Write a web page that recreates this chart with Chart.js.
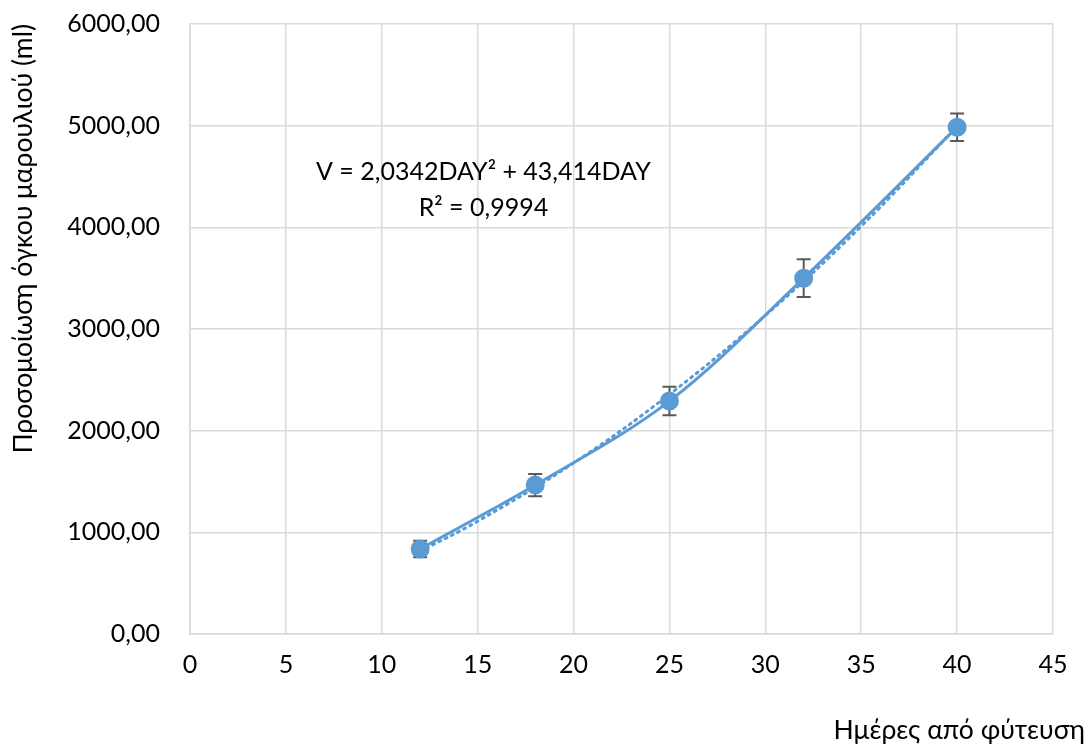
<!DOCTYPE html>
<html>
<head>
<meta charset="utf-8">
<script src="https://cdn.jsdelivr.net/npm/chart.js@4/dist/chart.umd.min.js"></script>
<style>
  html, body { margin: 0; padding: 0; background: #fff; }
  #wrap { width: 1091px; height: 746px; }
</style>
</head>
<body>
<div id="wrap"><canvas id="chart" width="1091" height="746"></canvas></div>
<script>
// measured data (days after planting, volume ml, error)
const days = [12, 18, 25, 32, 40]
const volume = [836, 1465, 2291, 3500, 4985]
const errors = [80, 110, 140, 185, 135]

// trendline values
const trendDays = [12, 15, 20, 25, 30, 35, 40]
const trendVolume = [814, 1109, 1682, 2357, 3133, 4011, 4991]

const xTicks = [0, 5, 10, 15, 20, 25, 30, 35, 40, 45]
const yTicks = [0, 1000, 2000, 3000, 4000, 5000, 6000]

const eqLines = ['V = 2,0342DAY² + 43,414DAY', 'R² = 0,9994']
const eqPos = [15.3, 4540, 4190] // x, y line1, y line2 (data units)

const blue = '#5B9BD5'
const grid = '#d9d9d9'
const font = 'Lato, "Open Sans", sans-serif'

const errorBars = {
  id: 'errorBars',
  beforeDatasetsDraw(chart) {
    const meta = chart.getDatasetMeta(1)
    const y = chart.scales.y
    const c = chart.ctx
    c.save()
    c.strokeStyle = '#595959'
    c.lineWidth = 2
    meta.data.forEach((pt, i) => {
      const top = y.getPixelForValue(volume[i] + errors[i])
      const bot = y.getPixelForValue(volume[i] - errors[i])
      c.beginPath()
      c.moveTo(pt.x, top); c.lineTo(pt.x, bot)
      c.moveTo(pt.x - 7, top); c.lineTo(pt.x + 7, top)
      c.moveTo(pt.x - 7, bot); c.lineTo(pt.x + 7, bot)
      c.stroke()
    })
    c.restore()
  }
}

const labels = {
  id: 'labels',
  afterDraw(chart) {
    const c = chart.ctx
    const sx = chart.scales.x, sy = chart.scales.y
    c.save()
    c.fillStyle = '#000'
    c.font = '25px ' + font
    c.textAlign = 'center'
    c.textBaseline = 'middle'
    c.fillText(eqLines[0], sx.getPixelForValue(eqPos[0]), sy.getPixelForValue(eqPos[1]))
    c.fillText(eqLines[1], sx.getPixelForValue(eqPos[0]), sy.getPixelForValue(eqPos[2]))
    // x axis title, right aligned to canvas edge
    c.font = '26.5px ' + font
    c.textAlign = 'right'
    c.fillText('Ημέρες από φύτευση', chart.width - 6, 730)
    c.restore()
  }
}

new Chart(document.getElementById('chart'), {
  type: 'scatter',
  data: {
    datasets: [{
      label: 'trend',
      data: trendDays.map((d, i) => ({x: d, y: trendVolume[i]})),
      showLine: true,
      borderColor: blue,
      borderWidth: 3,
      borderDash: [2, 5],
      borderCapStyle: 'round',
      pointRadius: 0,
      tension: 0.4
    }, {
      label: 'volume',
      data: days.map((d, i) => ({x: d, y: volume[i]})),
      showLine: true,
      borderColor: blue,
      borderWidth: 3,
      backgroundColor: blue,
      pointBackgroundColor: blue,
      pointBorderColor: blue,
      pointRadius: 8,
      tension: 0.33
    }]
  },
  options: {
    responsive: false,
    animation: false,
    layout: { padding: { top: 24, right: 38, left: 0, bottom: 0 } },
    plugins: { legend: { display: false }, tooltip: { enabled: false } },
    scales: {
      x: {
        type: 'linear', min: 0, max: 45,
        afterBuildTicks: s => { s.ticks = xTicks.map(v => ({value: v})) },
        afterFit: s => { s.height = 112; s.paddingLeft = 0; s.paddingRight = 0 },
        grid: { color: grid, lineWidth: 1.5, drawTicks: false },
        border: { color: grid, width: 1.5 },
        ticks: { color: '#000', font: { family: font, size: 25 }, padding: 16 }
      },
      y: {
        type: 'linear', min: 0, max: 6000,
        afterBuildTicks: s => { s.ticks = yTicks.map(v => ({value: v})) },
        afterFit: s => { s.width = 190; s.paddingTop = 0; s.paddingBottom = 0 },
        grid: { color: grid, lineWidth: 1.5, drawTicks: false },
        border: { color: grid, width: 1.5 },
        ticks: {
          color: '#000', font: { family: font, size: 25 }, padding: 30,
          callback: v => v.toFixed(2).replace('.', ',')
        },
        title: {
          display: true, text: 'Προσομοίωση όγκου μαρουλιού (ml)', align: 'end',
          color: '#000', font: { family: font, size: 26.5 }, padding: { top: 8, bottom: 0 }
        }
      }
    }
  },
  plugins: [errorBars, labels]
})
</script>
</body>
</html>
